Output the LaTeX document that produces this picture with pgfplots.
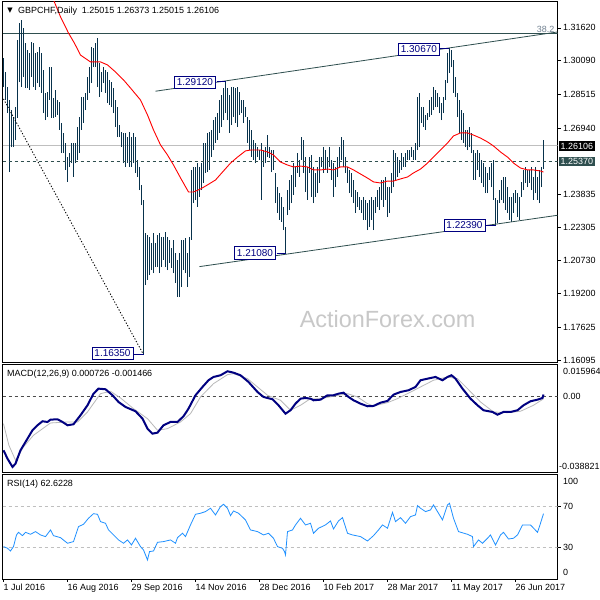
\documentclass[border=0pt]{standalone}
\usepackage{pgfplots}
\pgfplotsset{compat=1.18}
\usepackage{pgfplotstable}
\usepackage{fontspec}
\setmainfont{Liberation Sans}
\newfontfamily\dejavu{DejaVu Sans}
\definecolor{barcol}{RGB}{8,50,76}
\definecolor{dsg}{RGB}{47,79,79}
\definecolor{navyc}{RGB}{0,0,128}
\definecolor{rsicol}{RGB}{30,144,255}
\definecolor{sigcol}{RGB}{185,185,185}
\definecolor{wm}{RGB}{200,200,200}
\definecolor{slateg}{RGB}{112,128,144}

\pgfplotstableread{
x h l
0 1.3021 1.2886
1 1.2956 1.2825
2 1.2886 1.2764
3 1.2825 1.2488
4 1.2778 1.2605
5 1.2746 1.2605
6 1.2792 1.2638
7 1.3106 1.2741
8 1.3185 1.2909
9 1.3199 1.2886
10 1.3162 1.2933
11 1.3091 1.2881
12 1.3059 1.2881
13 1.3045 1.2872
14 1.3096 1.2933
15 1.3091 1.2886
16 1.3045 1.2872
17 1.3049 1.2904
18 1.3073 1.2886
19 1.3045 1.2858
20 1.2965 1.2764
21 1.2858 1.2731
22 1.2862 1.2746
23 1.2979 1.2825
24 1.2979 1.2741
25 1.2834 1.2741
26 1.2872 1.2746
27 1.2825 1.2755
28 1.2816 1.2685
29 1.2718 1.2577
30 1.2671 1.2577
31 1.2624 1.2498
32 1.2559 1.2442
33 1.2577 1.2512
34 1.2624 1.2530
35 1.2624 1.2465
36 1.2624 1.2530
37 1.2699 1.2545
38 1.2746 1.2577
39 1.2839 1.2685
40 1.2839 1.2718
41 1.2858 1.2778
42 1.2933 1.2825
43 1.2979 1.2858
44 1.3073 1.2904
45 1.3068 1.2979
46 1.3091 1.2979
47 1.3115 1.2886
48 1.2998 1.2839
49 1.2956 1.2862
50 1.2979 1.2904
51 1.2965 1.2858
52 1.2956 1.2811
53 1.2919 1.2802
54 1.2909 1.2792
55 1.2881 1.2764
56 1.2825 1.2699
57 1.2792 1.2652
58 1.2708 1.2652
59 1.2675 1.2605
60 1.2671 1.2530
61 1.2671 1.2512
62 1.2652 1.2530
63 1.2675 1.2512
64 1.2652 1.2512
65 1.2671 1.2530
66 1.2652 1.2484
67 1.2545 1.2465
68 1.2512 1.2404
69 1.2428 1.2334
70 1.2358 1.1635
71 1.2203 1.1960
72 1.2194 1.1984
73 1.2185 1.2007
74 1.2157 1.2030
75 1.2203 1.2016
76 1.2157 1.2044
77 1.2194 1.2044
78 1.2203 1.2016
79 1.2185 1.2044
80 1.2185 1.2077
81 1.2208 1.2044
82 1.2185 1.2030
83 1.2171 1.2063
84 1.2133 1.2040
85 1.2171 1.2016
86 1.2110 1.1970
87 1.2077 1.1904
88 1.2110 1.1904
89 1.2171 1.1951
90 1.2171 1.2030
91 1.2180 1.2016
92 1.2110 1.1951
93 1.2185 1.1998
94 1.2498 1.2171
95 1.2512 1.2343
96 1.2512 1.2358
97 1.2530 1.2325
98 1.2512 1.2372
99 1.2530 1.2404
100 1.2624 1.2437
101 1.2624 1.2484
102 1.2671 1.2488
103 1.2675 1.2498
104 1.2685 1.2559
105 1.2731 1.2591
106 1.2746 1.2624
107 1.2764 1.2638
108 1.2825 1.2671
109 1.2848 1.2699
110 1.2881 1.2731
111 1.2912 1.2764
112 1.2881 1.2731
113 1.2848 1.2671
114 1.2886 1.2708
115 1.2886 1.2746
116 1.2881 1.2718
117 1.2886 1.2699
118 1.2862 1.2755
119 1.2825 1.2764
120 1.2825 1.2718
121 1.2792 1.2746
122 1.2746 1.2624
123 1.2731 1.2591
124 1.2685 1.2559
125 1.2638 1.2545
126 1.2624 1.2530
127 1.2605 1.2559
128 1.2591 1.2545
129 1.2624 1.2358
130 1.2591 1.2512
131 1.2605 1.2530
132 1.2661 1.2559
133 1.2605 1.2554
134 1.2591 1.2488
135 1.2591 1.2498
136 1.2484 1.2343
137 1.2418 1.2297
138 1.2390 1.2264
139 1.2372 1.2255
140 1.2325 1.2217
141 1.2231 1.2108
142 1.2404 1.2287
143 1.2451 1.2311
144 1.2474 1.2343
145 1.2530 1.2381
146 1.2512 1.2418
147 1.2577 1.2484
148 1.2545 1.2465
149 1.2652 1.2545
150 1.2638 1.2484
151 1.2559 1.2395
152 1.2512 1.2358
153 1.2559 1.2484
154 1.2568 1.2372
155 1.2512 1.2343
156 1.2484 1.2372
157 1.2512 1.2390
158 1.2559 1.2437
159 1.2559 1.2512
160 1.2605 1.2484
161 1.2591 1.2498
162 1.2559 1.2484
163 1.2605 1.2512
164 1.2545 1.2451
165 1.2530 1.2372
166 1.2512 1.2418
167 1.2559 1.2465
168 1.2605 1.2512
169 1.2652 1.2545
170 1.2638 1.2512
171 1.2559 1.2484
172 1.2512 1.2437
173 1.2498 1.2390
174 1.2484 1.2372
175 1.2451 1.2343
176 1.2404 1.2297
177 1.2395 1.2325
178 1.2372 1.2311
179 1.2358 1.2297
180 1.2372 1.2264
181 1.2358 1.2264
182 1.2343 1.2217
183 1.2358 1.2231
184 1.2372 1.2264
185 1.2358 1.2217
186 1.2372 1.2297
187 1.2404 1.2325
188 1.2418 1.2311
189 1.2451 1.2358
190 1.2451 1.2325
191 1.2465 1.2358
192 1.2418 1.2278
193 1.2418 1.2297
194 1.2484 1.2390
195 1.2591 1.2418
196 1.2577 1.2451
197 1.2559 1.2465
198 1.2545 1.2484
199 1.2577 1.2498
200 1.2559 1.2512
201 1.2577 1.2512
202 1.2591 1.2545
203 1.2591 1.2545
204 1.2605 1.2559
205 1.2591 1.2545
206 1.2624 1.2545
207 1.2839 1.2591
208 1.2858 1.2605
209 1.2792 1.2718
210 1.2792 1.2699
211 1.2755 1.2685
212 1.2764 1.2731
213 1.2825 1.2746
214 1.2839 1.2755
215 1.2886 1.2778
216 1.2872 1.2792
217 1.2858 1.2792
218 1.2839 1.2764
219 1.2811 1.2731
220 1.2839 1.2764
221 1.2919 1.2825
222 1.3045 1.2904
223 1.3067 1.2951
224 1.3059 1.2979
225 1.3012 1.2858
226 1.2933 1.2839
227 1.2858 1.2746
228 1.2825 1.2671
229 1.2778 1.2638
230 1.2764 1.2624
231 1.2685 1.2605
232 1.2685 1.2591
233 1.2699 1.2605
234 1.2671 1.2577
235 1.2591 1.2451
236 1.2577 1.2451
237 1.2591 1.2498
238 1.2577 1.2465
239 1.2545 1.2437
240 1.2530 1.2418
241 1.2512 1.2390
242 1.2484 1.2390
243 1.2512 1.2451
244 1.2530 1.2418
245 1.2545 1.2358
246 1.2367 1.2239
247 1.2358 1.2250
248 1.2404 1.2343
249 1.2451 1.2358
250 1.2465 1.2343
251 1.2465 1.2311
252 1.2418 1.2297
253 1.2372 1.2264
254 1.2372 1.2255
255 1.2390 1.2297
256 1.2404 1.2343
257 1.2390 1.2278
258 1.2372 1.2264
259 1.2442 1.2372
260 1.2498 1.2404
261 1.2512 1.2437
262 1.2498 1.2418
263 1.2498 1.2437
264 1.2512 1.2404
265 1.2465 1.2358
266 1.2512 1.2390
267 1.2465 1.2358
268 1.2498 1.2343
269 1.2512 1.2418
270 1.2637 1.2502
}\bars

\pgfplotstableread{
x y
23 1.3340
25 1.3293
28.5 1.3214
32.5 1.3138
35.5 1.3090
38.5 1.3035
43.5 1.3003
48.5 1.3003
52 1.2989
56 1.2956
60 1.2919
63.5 1.2881
68.5 1.2825
72 1.2755
75 1.2685
78.5 1.2615
82 1.2568
85 1.2521
88.5 1.2461
92.5 1.2395
95 1.2395
98.5 1.2409
102 1.2428
106 1.2451
109.5 1.2488
113.5 1.2530
117 1.2558
121 1.2587
123.5 1.2591
128.5 1.2591
132 1.2582
135 1.2568
138.5 1.2535
142 1.2521
145 1.2512
148.5 1.2516
152 1.2512
155 1.2498
158.5 1.2498
162 1.2502
165 1.2498
168.5 1.2512
172 1.2512
175 1.2498
178.5 1.2479
182 1.2460
185 1.2442
188.5 1.2437
192 1.2446
195 1.2446
198.5 1.2456
202 1.2465
205 1.2484
208.5 1.2502
212 1.2530
215 1.2558
218.5 1.2591
222 1.2624
225 1.2657
228.5 1.2671
232 1.2671
235 1.2661
238.5 1.2647
242 1.2629
245 1.2610
248.5 1.2582
252 1.2558
255 1.2530
258.5 1.2507
262 1.2498
265 1.2498
268.5 1.2493
270 1.2488
}\ma

\pgfplotstableread{
x y
0 -0.02773
2 -0.03201
4.5 -0.03625
6 -0.03457
8.5 -0.02773
11 -0.02349
14.5 -0.01751
17 -0.01496
19.5 -0.01292
22 -0.01328
23.5 -0.01210
27 -0.01190
29.5 -0.01328
32 -0.01496
35 -0.01445
38.5 -0.00985
42 -0.00475
45 0.00117
47.5 0.00373
51 0.00342
54.5 0.00036
57.5 -0.00306
61 -0.00562
66 -0.00781
69.5 -0.01159
72 -0.01670
74.5 -0.01925
77 -0.01874
80 -0.01496
83.5 -0.01328
87 -0.01328
90 -0.01037
92.5 -0.00648
96 0.00036
99.5 0.00460
102.5 0.00802
105 0.00970
108.5 0.01057
112 0.01261
115 0.01190
118.5 0.01057
122.5 0.00715
127 0.00204
130 -0.00051
134.5 -0.00169
137.5 -0.00475
141 -0.00904
143.5 -0.00730
146 -0.00393
148.5 -0.00138
151 -0.00102
153.5 -0.00138
155 -0.00220
158.5 -0.00189
162 0.00036
165 0.00036
167.5 0.00117
170 0.00168
172.5 -0.00051
175 -0.00220
178.5 -0.00393
182 -0.00526
185 -0.00511
188.5 -0.00342
192 -0.00255
195 0.00066
198.5 0.00204
202.5 0.00291
206 0.00460
208.5 0.00802
212 0.00883
216 0.00970
219.5 0.00802
222 0.00970
224 0.01057
226 0.00883
229.5 0.00373
233.5 -0.00138
237 -0.00475
240 -0.00730
244.5 -0.00817
247 -0.00955
250 -0.00817
253.5 -0.00817
257 -0.00730
260 -0.00475
263.5 -0.00271
267 -0.00189
269.5 -0.00102
270 0.00073
}\macd

\pgfplotstableread{
x y
0 -0.01414
2.7 -0.02517
6 -0.03283
10 -0.02600
15 -0.02007
23.5 -0.01379
32 -0.01328
37 -0.01328
42 -0.00817
48.5 0.00117
53.5 0.00240
58.5 -0.00102
65 -0.00648
72 -0.01159
77 -0.01751
82 -0.01670
88.5 -0.01328
93.5 -0.00904
98.5 -0.00051
105 0.00628
112 0.01088
115 0.01139
122 0.00883
127 0.00460
132 0.00036
138.5 -0.00220
143.5 -0.00730
148.5 -0.00475
153.5 -0.00138
158.5 -0.00138
165 -0.00015
172 0.00117
177 -0.00051
182 -0.00393
185 -0.00511
192 -0.00342
197 -0.00138
202 0.00117
208.5 0.00460
215 0.00802
222 0.00970
227 0.00883
232 0.00373
238.5 -0.00306
245 -0.00817
252 -0.00853
258.5 -0.00781
265 -0.00475
270 -0.00147
}\signal

\pgfplotstableread{
x y
0 31
2 29.4
3.5 26.8
5 31
6.5 42.2
7.5 44.7
9.5 41.5
11 44.7
13.5 42.8
16 45.4
18.5 42.2
21 40.6
23.5 47
25 41.5
28.5 39.6
32 34.2
35 35.8
37.5 50.2
40 52.4
42.5 58.2
45 62.6
47 62
48.5 55
51 53.4
52.5 47
55 42.2
57.5 37.4
60 34.2
62 37.4
64 32.6
66 39
68.5 31
70 27.8
72 18.2
73 26.2
75 26.8
77 35.1
80 35.8
83.5 37.4
86 34.2
87 39.6
89.5 43.8
91 40.6
93.5 51.8
96 62
98.5 63
101 64.6
103.5 67.8
106 61.4
108.5 69.4
110 71.6
112 67.8
113.5 60.7
115 65.2
117.5 63
121 56.6
123.5 47
127 45.4
130 42.2
132.5 43.8
135 39
137 31
139.5 29.4
140.5 26.2
141 23
142 45.4
144.5 47
146 51.8
148.5 58.2
151 51.8
153.5 53.4
155 43.8
157.5 48.6
161 51.8
163.5 55.6
165 47.9
167.5 55.6
169.5 58.8
172 43.8
174.5 42.2
178.5 40.6
182 36.4
185 41.5
187.5 47
189.5 51.8
192 48.6
194.5 63.9
196 55
198.5 58.8
201 53.4
203.5 59.8
206 61.4
207 70.3
208.5 67.8
211 64.6
213.5 66.2
215 71
217.5 63
219.5 56.6
222 71
223 72.6
225 58.2
227.5 45.4
232 42.8
234.5 40.6
235 31
237.5 37.4
239.5 34.2
242 39
243.5 42.2
246 32.6
248.5 42.2
250 44.7
252.5 38.3
255 39
257 42.2
259.5 51.8
263.5 51.8
267 44.7
268.5 53.4
270 62.62
}\rsi

\pgfplotsset{
  panel/.style={
    scale only axis, anchor=south west, width=555bp,
    xmin=-0.5, xmax=277,
    axis line style={line width=0.8bp, black},
    tick align=outside, major tick length=3bp,
    tick style={black, line width=0.8bp},
    tick label style={font=\fontsize{9}{10}\selectfont},
  },
}
\tikzset{
  boxlab/.style={draw=navyc, fill=white, text=navyc, line width=0.8bp,
    inner xsep=2.5bp, inner ysep=2.5bp, text height=7.2bp, text depth=0pt,
    font=\fontsize{10}{10}\selectfont},
}

\begin{document}
\begin{tikzpicture}
\useasboundingbox (0,0) rectangle (600bp,600bp);
\fill[white] (0,0) rectangle (600bp,600bp);

% ---------- price panel ----------
\begin{axis}[panel, at={(2.5bp,238bp)}, height=360.5bp,
  ymin=1.16001, ymax=1.32855,
  xtick=\empty,
  ytick={1.3162,1.3009,1.28515,1.2694,1.23835,1.22305,1.2073,1.192,1.17625,1.16095},
  yticklabels={1.31620,1.30090,1.28515,1.26940,1.23835,1.22305,1.20730,1.19200,1.17625,1.16095},
  ytick pos=right, yticklabel pos=right,
  yticklabel style={anchor=west, inner sep=0pt, xshift=2.5bp},
]
\addplot[dsg, line width=0.8bp] coordinates {(-0.5,1.3134) (277,1.3134)};
\addplot[black!25, line width=0.8bp] coordinates {(-0.5,1.26106) (277,1.26106)};
\addplot[barcol, line width=1.15bp, quiver={u=0, v=\thisrow{h}-\thisrow{l}}] table[x=x, y=l] {\bars};
\addplot[dsg, line width=0.8bp, dash pattern=on 3bp off 3bp] coordinates {(-0.5,1.2537) (277,1.2537)};
\addplot[dsg, line width=0.8bp] coordinates {(76,1.2866) (277,1.3143)};
\addplot[dsg, line width=0.8bp] coordinates {(98,1.2046) (277,1.2286)};
\addplot[black, line width=0.9bp, dash pattern=on 1.2bp off 1.8bp] coordinates {(0,1.2830) (70,1.1635)};
\addplot[red, line width=0.9bp] table[x=x, y=y] {\ma};
% label connectors
\addplot[navyc, line width=0.8bp] coordinates {(106.5,1.2912) (111,1.2912)};
\addplot[navyc, line width=0.8bp] coordinates {(218.2,1.3067) (222.5,1.3067)};
\addplot[navyc, line width=0.8bp] coordinates {(136.5,1.2108) (141,1.2108)};
\addplot[navyc, line width=0.8bp] coordinates {(241,1.2239) (246,1.2239)};
\addplot[navyc, line width=0.8bp] coordinates {(65,1.1635) (70,1.1635)};
\node[boxlab] at (axis cs:95.7,1.29077) {1.29120};
\node[boxlab] at (axis cs:207.7,1.3062) {1.30670};
\node[boxlab] at (axis cs:125.75,1.2110) {1.21080};
\node[boxlab] at (axis cs:230.5,1.2239) {1.22390};
\node[boxlab] at (axis cs:54.5,1.1642) {1.16350};
\node[text=wm, font=\fontsize{23.5}{24}\selectfont] at (rel axis cs:0.694,0.119) {ActionForex.com};
\node[anchor=south east, text=slateg, inner sep=1bp, font=\fontsize{9}{9}\selectfont] at (axis cs:276,1.3134) {38.2};
\end{axis}

% ---------- MACD panel ----------
\begin{axis}[panel, at={(2.5bp,128bp)}, height=107.3bp,
  ymin=-0.038821, ymax=0.015964,
  xtick=\empty, ytick=\empty,
]
\addplot[black!70, line width=0.8bp, dash pattern=on 3bp off 3bp] coordinates {(-0.5,0) (277,0)};
\addplot[sigcol, line width=0.8bp] table[x=x, y=y] {\signal};
\addplot[navyc, line width=2bp] table[x=x, y=y] {\macd};
\end{axis}

% ---------- RSI panel ----------
\begin{axis}[panel, at={(2.5bp,21.1bp)}, height=104.2bp,
  ymin=0, ymax=100,
  xtick={0,32,64,96,128,160,192,224,256},
  xticklabels={1 Jul 2016,16 Aug 2016,29 Sep 2016,14 Nov 2016,28 Dec 2016,10 Feb 2017,28 Mar 2017,11 May 2017,26 Jun 2017},
  xtick pos=bottom,
  xticklabel style={anchor=north west, inner sep=0pt, yshift=-2bp},
  ytick={30,70}, yticklabels={30,70},
  ytick pos=right, yticklabel pos=right,
  yticklabel style={anchor=west, inner sep=0pt, xshift=2.5bp},
]
\addplot[black!25, line width=0.8bp, dash pattern=on 3bp off 3bp] coordinates {(-0.5,70) (277,70)};
\addplot[black!25, line width=0.8bp, dash pattern=on 3bp off 3bp] coordinates {(-0.5,30) (277,30)};
\addplot[rsicol, line width=0.8bp] table[x=x, y=y] {\rsi};
\end{axis}

% ---------- texts ----------
\node[anchor=center, inner sep=0pt] at (10bp,589bp) {\dejavu\fontsize{7}{7}\selectfont ▼};
\node[anchor=west, inner sep=0pt, font=\fontsize{9}{10}\selectfont] at (18bp,589bp) {GBPCHF,Daily\ \ 1.25015 1.26373 1.25015 1.26106};
\node[anchor=west, inner sep=0pt, font=\fontsize{9}{10}\selectfont] at (7bp,225.7bp) {MACD(12,26,9) 0.000726 -0.001466};
\node[anchor=west, inner sep=0pt, font=\fontsize{9}{10}\selectfont] at (7bp,116.3bp) {RSI(14) 62.6228};
\node[anchor=west, inner sep=0pt, font=\fontsize{9}{10}\selectfont] at (563bp,228.3bp) {0.015964};
\node[anchor=west, inner sep=0pt, font=\fontsize{9}{10}\selectfont] at (563bp,204bp) {0.00};
\node[anchor=west, inner sep=0pt, font=\fontsize{9}{10}\selectfont] at (559bp,133.3bp) {-0.038821};
\node[anchor=west, inner sep=0pt, font=\fontsize{9}{10}\selectfont] at (563bp,118.3bp) {100};
\node[anchor=west, inner sep=0pt, font=\fontsize{9}{10}\selectfont] at (563bp,27.3bp) {0};
\node[anchor=west, fill=black, text=white, inner xsep=2bp, inner ysep=1.5bp, font=\fontsize{9}{10}\selectfont] at (558.5bp,454bp) {1.26106};
\node[anchor=west, fill=dsg, text=white, inner xsep=2bp, inner ysep=1.5bp, font=\fontsize{9}{10}\selectfont] at (558.5bp,438.3bp) {1.25370};
\end{tikzpicture}
\end{document}
